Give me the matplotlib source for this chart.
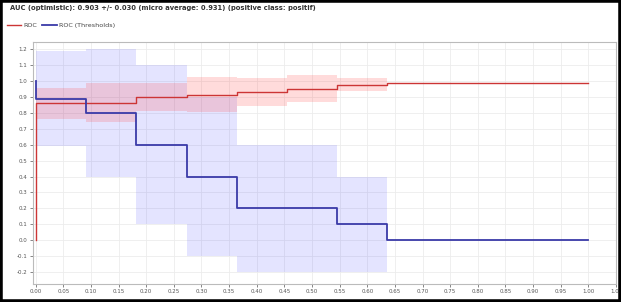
import numpy as np
import matplotlib
matplotlib.use("Agg")
from matplotlib import pyplot as plt
from matplotlib.patches import Rectangle

title = "AUC (optimistic): 0.903 +/- 0.030 (micro average: 0.931) (positive class: positif)"

# false positive rate steps (segment edges)
fpr = [0.0, 0.091, 0.182, 0.273, 0.364, 0.455, 0.545, 0.636, 1.0]

# ROC curve: mean and std per segment
roc_mean = [0.86, 0.866, 0.90, 0.916, 0.933, 0.954, 0.978, 0.99]
roc_std = [0.10, 0.12, 0.09, 0.11, 0.09, 0.085, 0.04, 0.0]

# ROC (Thresholds): mean and std per segment
thr_mean = [0.89, 0.80, 0.60, 0.40, 0.20, 0.20, 0.10, 0.0]
thr_std = [0.30, 0.40, 0.50, 0.50, 0.40, 0.40, 0.30, 0.0]

red = "#cc3535"
blue = "#3a3aa8"

fig = plt.figure(figsize=(6.21, 3.02), dpi=100)
ax = fig.add_axes([0.053, 0.06, 0.939, 0.80])

def step_vals(v):
    return list(v) + [v[-1]]

rm = np.array(roc_mean)
rs = np.array(roc_std)
tm = np.array(thr_mean)
ts = np.array(thr_std)

ax.fill_between(fpr, step_vals(tm - ts), step_vals(tm + ts), step="post",
                color="#4040ff", alpha=0.14, linewidth=0)
ax.fill_between(fpr, step_vals(rm - rs), step_vals(rm + rs), step="post",
                color="#ff4040", alpha=0.19, linewidth=0)

ax.step([0.0] + fpr, [0.0] + step_vals(roc_mean), where="post", color=red, lw=1.0, label="ROC")
ax.step([0.0] + fpr, [1.0] + step_vals(thr_mean), where="post", color=blue, lw=1.3,
        label="ROC (Thresholds)")

ax.set_xlim(-0.005, 1.05)
ax.set_ylim(-0.275, 1.245)
ax.set_xticks(np.arange(0, 1.051, 0.05))
ax.set_xticklabels(["%.2f" % v for v in np.arange(0, 1.051, 0.05)])
ax.set_yticks(np.arange(-0.2, 1.21, 0.1))
ax.set_yticklabels(["%.1f" % v for v in np.arange(-0.2, 1.21, 0.1)])
ax.tick_params(labelsize=4, colors="#555555", length=2, width=0.5, pad=2)
ax.grid(True, color="#ececec", lw=0.6)
ax.set_axisbelow(True)
for s in ax.spines.values():
    s.set_color("#bbbbbb")
    s.set_linewidth(0.8)

fig.text(0.016, 0.985, title, fontsize=4.9, fontweight="bold", va="top", ha="left", color="#333333")
fig.legend(loc="upper left", bbox_to_anchor=(0.002, 0.945), ncol=2, frameon=False,
           fontsize=4.6, handlelength=2.2, columnspacing=0.8, handletextpad=0.4,
           labelcolor="#444444")

fig.patches.append(Rectangle((0, 0), 1, 1, transform=fig.transFigure, fill=False,
                             edgecolor="black", lw=4))

fig.savefig("out.png", dpi=100)
